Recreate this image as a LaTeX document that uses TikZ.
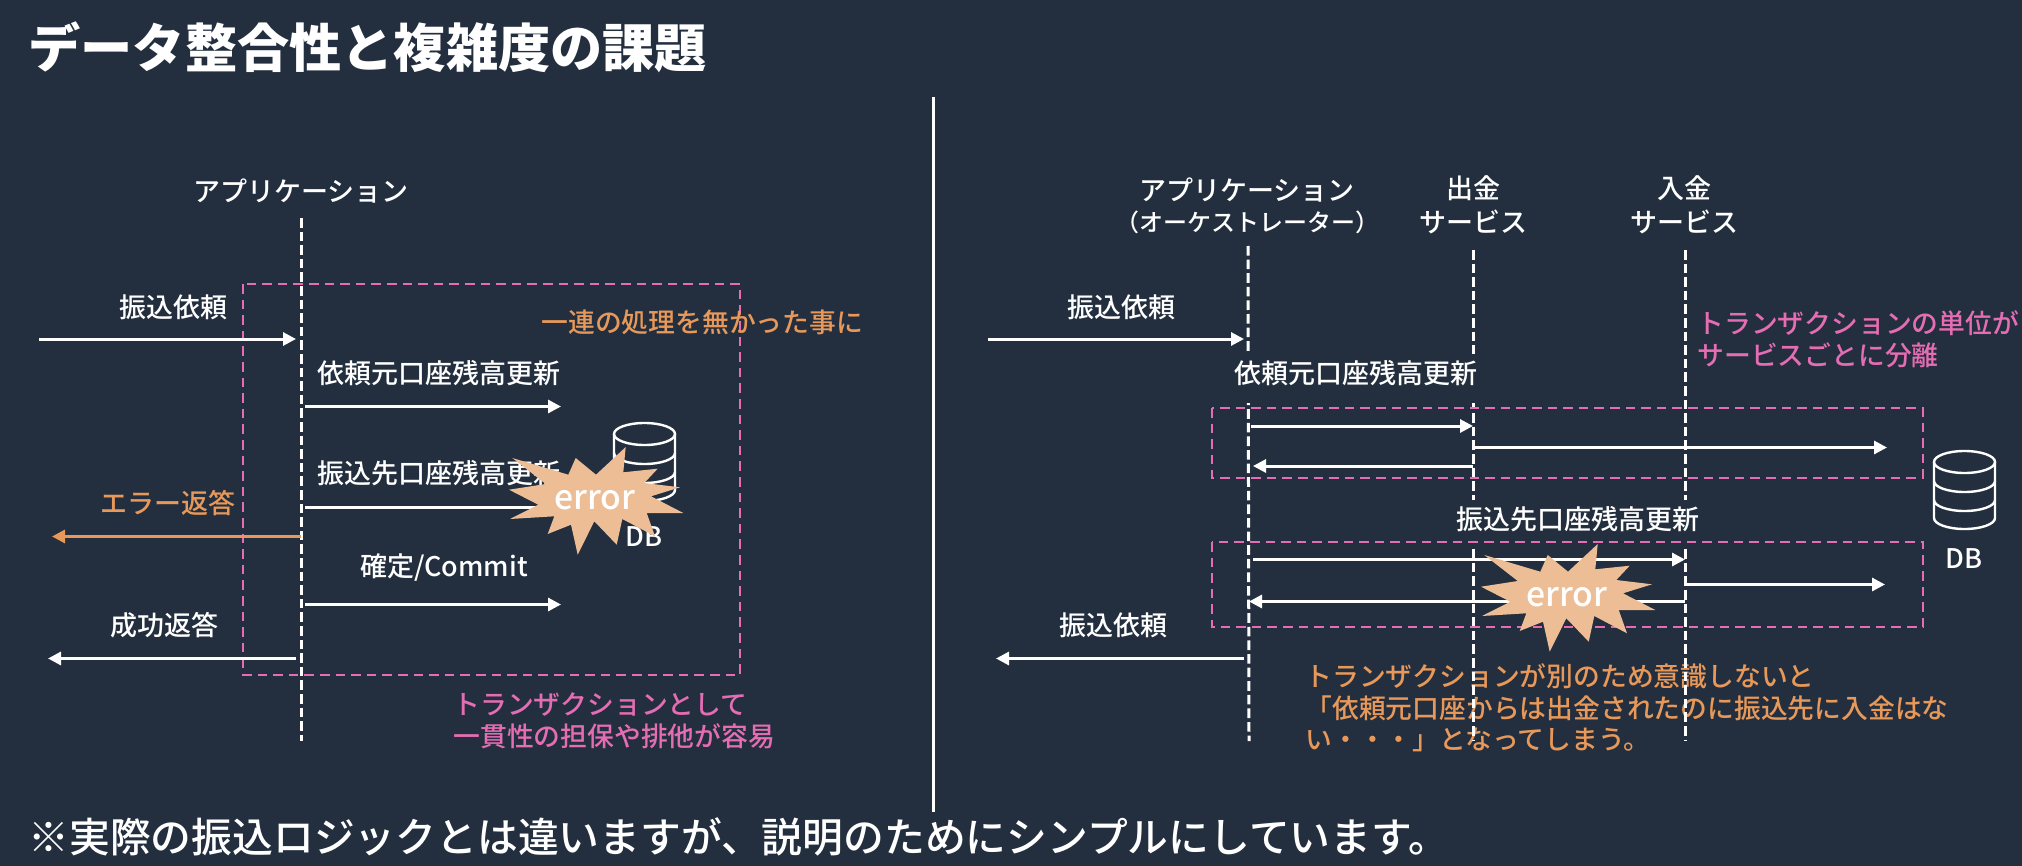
\documentclass[tikz,border=0pt]{standalone}
\usepackage{fontspec}
\setmainfont{Noto Sans CJK JP}
\newfontfamily\mediumfont{Noto Sans CJK JP Medium}
\usetikzlibrary{arrows.meta}
\definecolor{bg}{HTML}{232F3E}
\definecolor{pink}{HTML}{E56DB4}
\definecolor{orange}{HTML}{E8995A}
\definecolor{burst}{HTML}{EDBE96}
\tikzset{
  plain/.style={text=white,inner sep=0pt,font=\mediumfont\fontsize{13.5}{16}\selectfont},
  msg/.style={plain,yshift=-1pt},
  msgmask/.style={msg,fill=bg,text height=14.7pt,text depth=9.8pt},
  pinknote/.style={plain,text=pink,align=left,anchor=west,font=\mediumfont\fontsize{13.4}{16}\selectfont},
  orangenote/.style={plain,text=orange,align=left,anchor=west,font=\mediumfont\fontsize{13.4}{15.8}\selectfont},
  lifeline/.style={draw=white,line width=1.5pt,dash pattern=on 4.8pt off 2pt},
  txbox/.style={draw=pink,line width=1pt,dash pattern=on 4.8pt off 3pt},
  arrow/.style={-{Triangle[length=6.5pt,width=6.5pt]},draw=white,line width=1.5pt},
  errarrow/.style={arrow,draw=orange},
  errorburst/.pic={
    \fill[burst] (30.7,-51)--(28.3,-25.7)--(62.7,-29.3)--(49.3,-15)--(85,-10.7)--(56,-1.7)--(88.3,15)--(51.7,15)
      --(60,38.3)--(27.3,21)--(21.7,46.7)--(-0.7,23.3)--(-17.3,56.7)--(-24,26.7)--(-47.3,36)--(-40.7,18.3)
      --(-85,21)--(-56.7,6.7)--(-86,-8.3)--(-49.3,-14)--(-82.7,-40)--(-26.7,-23.3)--(-19.3,-40)--(1,-23.3)--cycle;
    \node[plain,font=\mediumfont\fontsize{16.9}{20}\selectfont] (-text) at (0,2) {error};
  },
  dbicon/.pic={
    \draw[white,line width=1.2pt] (0,11) ellipse[x radius=30.5,y radius=11];
    \draw[white,line width=1.2pt] (-30.5,11)--(-30.5,67) arc[start angle=180,end angle=0,x radius=30.5,y radius=11]--(30.5,11);
    \draw[white,line width=1.2pt] (-30.5,30) arc[start angle=180,end angle=0,x radius=30.5,y radius=11];
    \draw[white,line width=1.2pt] (-30.5,49) arc[start angle=180,end angle=0,x radius=30.5,y radius=11];
  }
}
\begin{document}
\begin{tikzpicture}[x=0.5pt,y=-0.5pt]
\fill[bg] (0,0) rectangle (2022,866);
\useasboundingbox (0,0) rectangle (2022,866);

\node[plain,anchor=west,font=\fontsize{26.1}{30}\selectfont\bfseries] (title) at (28,47) {データ整合性と複雑度の課題};
\node[plain,anchor=west,font=\mediumfont\fontsize{20.4}{24}\selectfont] (footnote) at (28,837) {※実際の振込ロジックとは違いますが、説明のためにシンプルにしています。};
\coordinate (divtop) at (933,97); \coordinate (divend) at (933,812);
\draw[white,line width=1.5pt] (divtop)--(divend);

\node[msg] (applabel) at (301,189) {アプリケーション};
\coordinate (apptop) at (301,218); \coordinate (append) at (301,741);
\draw[lifeline] (apptop)--(append);
\coordinate (boxnw) at (243,284); \coordinate (boxse) at (740,675);
\draw[txbox] (boxnw) rectangle (boxse);

\node[msg] (reqlabel) at (173,305) {振込依頼};
\coordinate (reqa) at (39,339); \coordinate (reqb) at (296,339);
\draw[arrow] (reqa)--(reqb);
\node[msg] (srclabel) at (439,371) {依頼元口座残高更新};
\coordinate (srca) at (305,406.5); \coordinate (srcb) at (561,406.5);
\draw[arrow] (srca)--(srcb);
\node[msg] (dstlabel) at (439,471) {振込先口座残高更新};
\coordinate (dsta) at (305,507.5); \coordinate (dstb) at (561,507.5);
\draw[arrow] (dsta)--(dstb);
\node[msg,text=orange] (errlabel) at (168,501) {エラー返答};
\coordinate (erra) at (301,536.5); \coordinate (errb) at (52,536.5);
\draw[errarrow] (erra)--(errb);
\node[msg] (commitlabel) at (444,566) {確定/Commit};
\coordinate (commita) at (305,604.5); \coordinate (commitb) at (561,604.5);
\draw[arrow] (commita)--(commitb);
\node[msg] (oklabel) at (164,623) {成功返答};
\coordinate (oka) at (296,658.5); \coordinate (okb) at (48,658.5);
\draw[arrow] (oka)--(okb);

\pic (dba) at (644.5,423) {dbicon};
\node[msg] (dbalabel) at (644,535) {DB};
\pic (errora) at (595,498) {errorburst};
\node[orangenote] (rollback) at (541,322) {一連の処理を無かった事に};
\node[pinknote] (easy) at (453,721) {トランザクションとして\\一貫性の担保や排他が容易};

\node[orangenote] (warn) at (1305,708) {トランザクションが別のため意識しないと\\「依頼元口座からは出金されたのに振込先に入金はな\\い・・・」となってしまう。};

\node[msg] (orchlabel) at (1247,188) {アプリケーション};
\node[msg,font=\mediumfont\fontsize{12}{14}\selectfont] (orchsub) at (1247,220) {（オーケストレーター）};
\node[msg,align=center,font=\mediumfont\fontsize{13.5}{17}\selectfont] (outlabel) at (1473,203) {出金\\サービス};
\node[msg,align=center,font=\mediumfont\fontsize{13.5}{17}\selectfont] (inlabel) at (1684,203) {入金\\サービス};
\coordinate (orchtop) at (1248,246); \coordinate (orchend) at (1249,741);
\coordinate (outtop) at (1473,250); \coordinate (outend) at (1473,741);
\coordinate (intop) at (1685,250); \coordinate (inend) at (1685,741);
\draw[lifeline] (orchtop)--(orchend); \draw[lifeline] (outtop)--(outend); \draw[lifeline] (intop)--(inend);

\node[msgmask] (srcmask) at (1356,376.5) {依頼元口座残高更新};
\node[msgmask] (dstmask) at (1578,522.5) {振込先口座残高更新};
\coordinate (boxanw) at (1212,408); \coordinate (boxase) at (1923,478);
\coordinate (boxbnw) at (1212,542); \coordinate (boxbse) at (1923,627);
\draw[txbox] (boxanw) rectangle (boxase); \draw[txbox] (boxbnw) rectangle (boxbse);

\node[msg] (req2label) at (1121,305) {振込依頼};
\coordinate (req2a) at (988,339); \coordinate (req2b) at (1244,339);
\draw[arrow] (req2a)--(req2b);
\coordinate (a1a) at (1251,426); \coordinate (a1b) at (1473,426);
\coordinate (a2a) at (1473,447.5); \coordinate (a2b) at (1887,447.5);
\coordinate (a3a) at (1473,466); \coordinate (a3b) at (1253,466);
\draw[arrow] (a1a)--(a1b); \draw[arrow] (a2a)--(a2b); \draw[arrow] (a3a)--(a3b);
\coordinate (b1a) at (1253,559.5); \coordinate (b1b) at (1685,559.5);
\coordinate (b2a) at (1685,584.5); \coordinate (b2b) at (1885,584.5);
\coordinate (b3a) at (1685,601.5); \coordinate (b3b) at (1249,601.5);
\draw[arrow] (b1a)--(b1b); \draw[arrow] (b2a)--(b2b); \draw[arrow] (b3a)--(b3b);
\node[msg] (resplabel) at (1113,623) {振込依頼};
\coordinate (respa) at (1244,658.5); \coordinate (respb) at (996,658.5);
\draw[arrow] (respa)--(respb);

\pic (dbb) at (1964.5,451) {dbicon};
\node[msg] (dbblabel) at (1964,557) {DB};
\pic (errorb) at (1567,595) {errorburst};
\node[pinknote] (unit) at (1697,339) {トランザクションの単位が\\サービスごとに分離};
\end{tikzpicture}
\end{document}
